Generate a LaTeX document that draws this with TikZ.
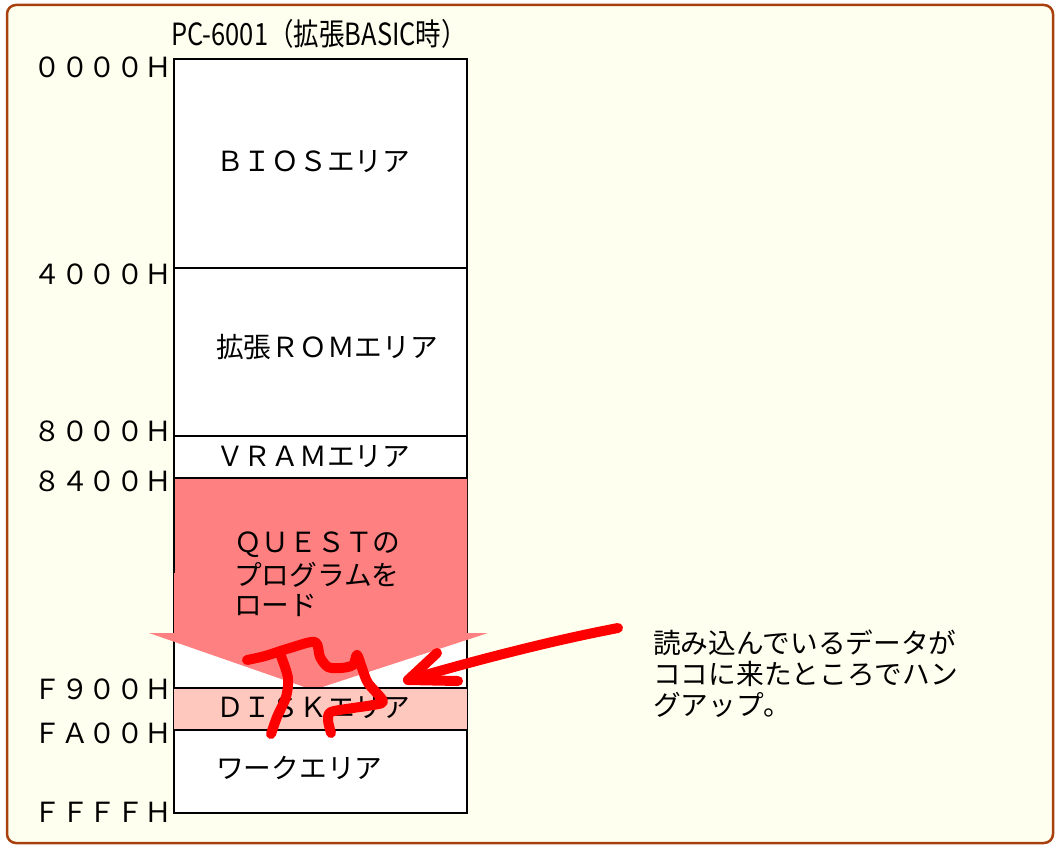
\documentclass[tikz,border=0pt]{standalone}
\usepackage{fontspec}
\setmainfont{Noto Sans CJK JP}
\usepackage{graphicx}
\usepackage{xcolor}
\definecolor{paper}{HTML}{FFFFF0}
\definecolor{frame}{HTML}{A8400E}
\definecolor{loadred}{HTML}{FF8080}
\definecolor{diskpink}{HTML}{FFC8BE}

\tikzset{
  addr/.style={anchor=east, inner sep=0pt, font=\fontsize{27.7}{30}\selectfont},
  area/.style={anchor=west, inner sep=0pt, font=\fontsize{27.7}{30}\selectfont},
  scribble/.style={draw=red, line width=10pt, line cap=round, line join=round}
}

\begin{document}
\begin{tikzpicture}[x=1pt, y=-1pt]
  \useasboundingbox (0,0) rectangle (1060,851);
  \draw[frame, fill=paper, line width=2.5pt, rounded corners=9pt] (7,5) rectangle (1053,843);

  % memory map
  \fill[white] (174,59) rectangle (467,813);
  \fill[diskpink] (174,688) rectangle (467,730);
  \draw[line width=2pt] (174,59) rectangle (467,813);
  \draw[line width=2pt] (174,268) -- (467,268);
  \draw[line width=2pt] (174,436) -- (467,436);
  \draw[line width=2pt] (174,688) -- (467,688);
  \draw[line width=2pt] (174,730) -- (467,730);

  % load arrow
  \fill[loadred] (174,478) -- (467,478) -- (467,633) -- (488,633) -- (313,690)
    -- (149,633) -- (174,633) -- cycle;
  \fill[diskpink] (174,689) rectangle (467,729);
  \draw[line width=2pt] (174,478) -- (467,478);
  \draw[line width=2pt] (174,478) -- (174,573);
  \draw[line width=2pt] (174,688) -- (467,688);

  \node[inner sep=0pt] (title) at (319,34) {\scalebox{1}[1.2]{\fontsize{25.5}{27}\selectfont PC-6001（拡張BASIC時）}};

  \node[addr] (a0000) at (172,67) {００００Ｈ};
  \node[addr] (a4000) at (172,274) {４０００Ｈ};
  \node[addr] (a8000) at (172,431) {８０００Ｈ};
  \node[addr] (a8400) at (172,481) {８４００Ｈ};
  \node[addr] (aF900) at (172,689) {Ｆ９００Ｈ};
  \node[addr] (aFA00) at (172,733) {ＦＡ００Ｈ};
  \node[addr] (aFFFF) at (172,812) {ＦＦＦＦＨ};

  \node[area] (bios) at (216,162) {ＢＩＯＳエリア};
  \node[area] (rom) at (216,347) {拡張ＲＯＭエリア};
  \node[area] (vram) at (216,457) {ＶＲＡＭエリア};
  \node[area] (quest1) at (234,545) {ＱＵＥＳＴの};
  \node[area] (quest2) at (234,575) {プログラムを};
  \node[area] (quest3) at (234,605) {ロード};
  \node[area] (disk) at (216,708) {ＤＩＳＫエリア};
  \node[area] (work) at (216,768) {ワークエリア};

  \node[area] (note1) at (653,643) {読み込んでいるデータが};
  \node[area] (note2) at (653,674) {ココに来たところでハン};
  \node[area] (note3) at (653,705) {グアップ。};

  % hand drawn marks
  \draw[scribble] plot[smooth, tension=0.5] coordinates {(247,660) (265,656) (290,648)
    (315,642) (320,657) (328,667) (341,668) (353,665) (357,655) (362,668) (368,683)
    (383,701) (373,705) (353,708) (331,712) (328,720) (331,733)};
  \draw[scribble] plot[smooth, tension=0.5] coordinates {(281,656) (288,678) (286,697)
    (277,717) (271,734)};

  \coordinate (hangtail) at (618,628);
  \coordinate (hangtip) at (408,680);
  \draw[scribble] (hangtail) .. controls (545,642) and (470,662) .. (hangtip);
  \draw[scribble] (437,653) -- (hangtip) -- (458,681);
\end{tikzpicture}
\end{document}
